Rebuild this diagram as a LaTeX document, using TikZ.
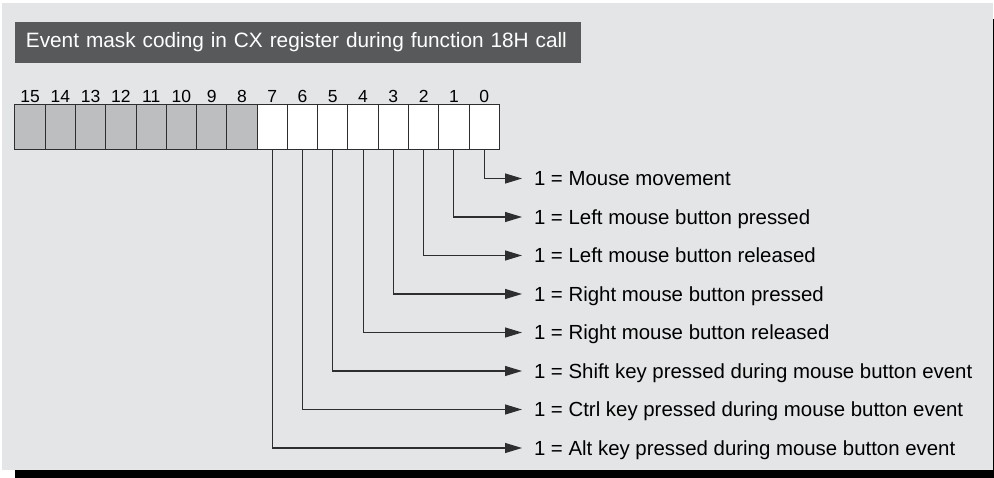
\documentclass[tikz,border=0pt]{standalone}
\usepackage{fontspec}
\setmainfont{Liberation Sans}
\usetikzlibrary{arrows.meta, positioning}
\definecolor{panelbg}{HTML}{E4E5E7}
\definecolor{banner}{HTML}{58595B}
\definecolor{unused}{HTML}{BCBEC0}
\definecolor{wire}{HTML}{2E2E30}

\tikzset{
    bitbox/.style={draw=wire, line width=1pt, minimum width=30.27pt, minimum height=45.7pt, inner sep=0pt, outer sep=0pt},
    bitnum/.style={font=\fontsize{17.5}{17.5}\selectfont, inner sep=2pt, text depth=0pt},
    flag/.style={anchor=west, font=\fontsize{20.4}{20.4}\selectfont, inner sep=0pt, inner xsep=12pt, outer sep=0pt, text height=15pt, text depth=0pt},
    feed/.style={draw=wire, line width=1.1pt, -{Triangle[length=17pt, width=10pt]}},
    titlebar/.style={fill=banner, text=white, anchor=north west, font=\fontsize{20.8}{20.8}\selectfont, minimum height=40.7pt, inner xsep=10.7pt, text width=544.6pt, align=left}
}

\begin{document}
\begin{tikzpicture}[x=1pt, y=-1pt]
    % Panel with its dark drop shadow
    \useasboundingbox (0,0) rectangle (994,478);
    \fill[black] (15,19) rectangle (994,478);
    \fill[panelbg] (2,3) rectangle (992.7,470);

    % Heading bar
    \node[titlebar] (title) at (15,22) {Event mask coding in CX register during function 18H call};

    % The 16 bits of CX, high byte unused
    \foreach \b in {8,...,15}
        \node[bitbox, fill=unused, label={[bitnum]above:\b}] (b\b) at ({484.165-30.27*\b}, 127.15) {};
    \foreach \b in {0,...,7}
        \node[bitbox, fill=white, label={[bitnum]above:\b}] (b\b) at ({484.165-30.27*\b}, 127.15) {};

    % Meaning of each bit in the low byte
    \foreach \b/\txt in {0/Mouse movement,
                         1/Left mouse button pressed,
                         2/Left mouse button released,
                         3/Right mouse button pressed,
                         4/Right mouse button released,
                         5/Shift key pressed during mouse button event,
                         6/Ctrl key pressed during mouse button event,
                         7/Alt key pressed during mouse button event} {
        \node[flag] (l\b) at (522, {178.5+38.5*\b}) {1 = \txt};
        \draw[feed] (b\b.south) |- (l\b.west);
    }
\end{tikzpicture}
\end{document}
